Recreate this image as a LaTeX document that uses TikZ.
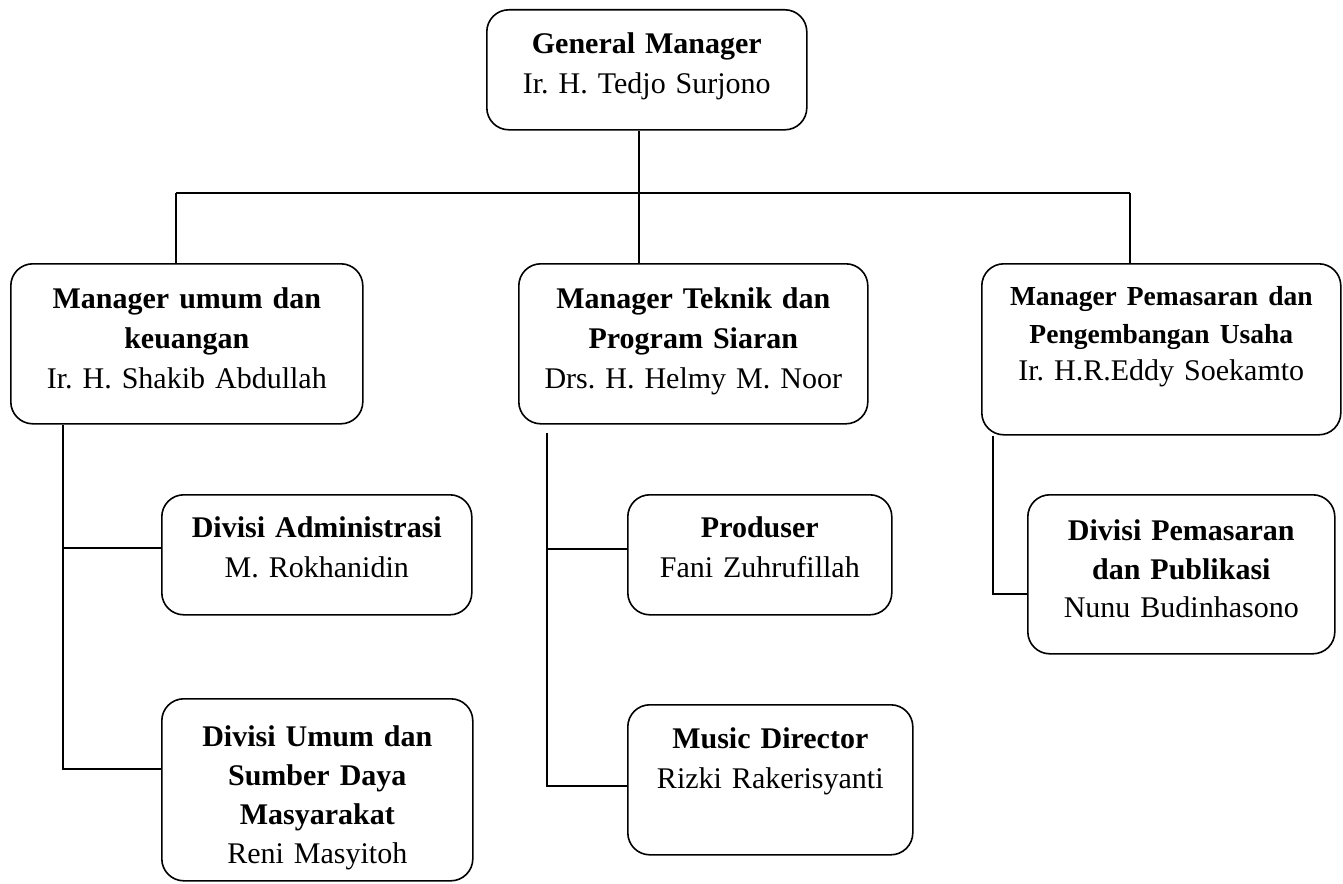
\documentclass[tikz,border=0pt]{standalone}
\usepackage{fontspec}
\setmainfont{Liberation Serif}
\usetikzlibrary{positioning, calc}
\frenchspacing

\newcommand{\post}[1]{\textbf{#1}}

\begin{document}
\begin{tikzpicture}[x=1pt, y=-1pt,
    unit/.style={draw, line width=1.6pt, rounded corners=22pt, align=center,
        anchor=north west, inner xsep=0pt, inner ysep=0pt,
        font=\fontsize{30}{40}\selectfont},
    link/.style={line width=1.6pt}]
                \useasboundingbox (0,0) rectangle (1343,883);

                % General manager
                \node[unit, text width=320pt, text height=44pt, text depth=76pt] (gm) at (486, 9) {
                    \post{General Manager}\\
                    Ir. H. Tedjo Surjono
                };

                % Managers
                \node[unit, text width=352pt, text height=45pt, text depth=115pt] (mum) at (10, 263) {
                    \post{Manager umum dan}\\
                    \post{keuangan}\\
                    Ir. H. Shakib Abdullah
                };
                \node[unit, text width=349pt, text height=45pt, text depth=115pt] (mtek) at (518, 263) {
                    \post{Manager Teknik dan}\\
                    \post{Program Siaran}\\
                    Drs. H. Helmy M. Noor
                };
                \node[unit, text width=359pt, text height=42pt, text depth=129pt,
                    font=\fontsize{30}{37.5}\selectfont] (mpem) at (981, 263) {
                    {\fontsize{27.5}{37.5}\selectfont\post{Manager Pemasaran dan}}\\
                    {\fontsize{27.5}{37.5}\selectfont\post{Pengembangan Usaha}}\\
                    Ir. H.R.Eddy Soekamto
                };

                % Divisions
                \node[unit, text width=310pt, text height=43pt, text depth=77pt] (dadm) at (161, 494) {
                    \post{Divisi Administrasi}\\
                    M. Rokhanidin
                };
                \node[unit, text width=311pt, text height=48pt, text depth=134pt,
                    font=\fontsize{30}{39}\selectfont] (dum) at (161, 698) {
                    \post{Divisi Umum dan}\\
                    \post{Sumber Daya}\\
                    \post{Masyarakat}\\
                    Reni Masyitoh
                };
                \node[unit, text width=264pt, text height=43pt, text depth=77pt] (prod) at (627, 494) {
                    \post{Produser}\\
                    Fani Zuhrufillah
                };
                \node[unit, text width=285pt, text height=44pt, text depth=106pt] (mdir) at (627, 704) {
                    \post{Music Director}\\
                    Rizki Rakerisyanti
                };
                \node[unit, text width=307pt, text height=46pt, text depth=113pt,
                    font=\fontsize{30}{38.5}\selectfont] (dpem) at (1027, 494) {
                    \post{Divisi Pemasaran}\\
                    \post{dan Publikasi}\\
                    Nunu Budinhasono
                };

                % Top bus
                \coordinate (busL) at (176, 193);
                \coordinate (busM) at (639, 193);
                \coordinate (busR) at (1130, 193);
                \draw[link] (gm.south -| busM) -- (busM);
                \draw[link] (busL) -- (busR);
                \draw[link] (busL) -- (busL |- mum.north);
                \draw[link] (busM) -- (busM |- mtek.north);
                \draw[link] (busR) -- (busR |- mpem.north);

                % Left branch
                \coordinate (spL) at (63, 769);
                \coordinate (brL) at (63, 548);
                \draw[link] (spL |- mum.south) -- (spL) -- (spL -| dum.west);
                \draw[link] (brL) -- (brL -| dadm.west);

                % Middle branch
                \coordinate (topM) at (547, 433);
                \coordinate (spM) at (547, 786);
                \coordinate (brM) at (547, 549);
                \draw[link] (topM) -- (spM) -- (spM -| mdir.west);
                \draw[link] (brM) -- (brM -| prod.west);

                % Right branch
                \coordinate (spR) at (993, 594);
                \draw[link] (spR |- mpem.south) -- (spR) -- (spR -| dpem.west);
            \end{tikzpicture}
\end{document}
